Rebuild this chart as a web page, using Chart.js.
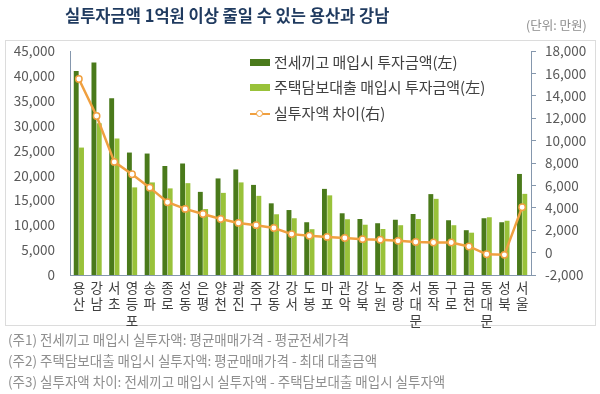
<!DOCTYPE html>
<html>
<head>
<meta charset="utf-8">
<script src="https://cdn.jsdelivr.net/npm/chart.js@4"></script>
<style>
  html, body { margin: 0; padding: 0; background: #fff; }
  body { width: 600px; height: 394px; position: relative; overflow: hidden;
         font-family: "Noto Sans CJK KR", "Noto Sans", sans-serif; }
  #frame { position: absolute; left: 5px; top: 40px; width: 591px; height: 286px;
           border: 1px solid #dcdcdc; box-sizing: border-box; }
  #chartBox { position: absolute; left: 0; top: 0; width: 600px; height: 394px; }
  .title { position: absolute; left: 65px; top: 3px; font-size: 16.5px; font-weight: bold;
           color: #1f3a5f; white-space: nowrap; }
  .unit { position: absolute; left: 526px; top: 15px; font-size: 12.5px; color: #8c8c8c; white-space: nowrap; }
  .note { position: absolute; left: 8px; font-size: 13.5px; color: #8f8f8f; white-space: nowrap; }
  .lg { position: absolute; left: 250px; font-size: 15px; color: #404040; white-space: nowrap; }
  .lg .sw { display: inline-block; width: 20px; height: 7px; vertical-align: middle; margin-right: 4px; position: relative; top: -1px; }
  .lg .ln { display: inline-block; width: 20px; height: 10px; vertical-align: middle; margin-right: 4px; position: relative; top: -1px; }
  .lg .ln::before { content: ""; position: absolute; left: 0; right: 0; top: 4px; height: 2px; background: #f0a040; }
  .lg .ln::after { content: ""; position: absolute; left: 6px; top: 1px; width: 5px; height: 5px; border: 1.5px solid #f0a040; border-radius: 50%; background: #fff; }
</style>
</head>
<body>
<div id="frame"></div>
<div id="chartBox"><canvas id="myChart" width="600" height="394"></canvas></div>
<div class="title">실투자금액 1억원 이상 줄일 수 있는 용산과 강남</div>
<div class="unit">(단위: 만원)</div>
<div class="lg" style="top:51px"><span class="sw" style="background:#4a7a1b"></span>전세끼고 매입시 투자금액(左)</div>
<div class="lg" style="top:76px"><span class="sw" style="background:#99c23a"></span>주택담보대출 매입시 투자금액(左)</div>
<div class="lg" style="top:102px"><span class="ln"></span>실투자액 차이(右)</div>
<div class="note" style="top:329px">(주1) 전세끼고 매입시 실투자액: 평균매매가격 - 평균전세가격</div>
<div class="note" style="top:350px">(주2) 주택담보대출 매입시 실투자액: 평균매매가격 - 최대 대출금액</div>
<div class="note" style="top:371px">(주3) 실투자액 차이: 전세끼고 매입시 실투자액 - 주택담보대출 매입시 실투자액</div>

<script>
// 구별 이름 (세로로 한 글자씩 표시)
const districts = ['용산', '강남', '서초', '영등포', '송파', '종로', '성동', '은평', '양천', '광진', '중구', '강동', '강서',
                   '도봉', '마포', '관악', '강북', '노원', '중랑', '서대문', '동작', '구로', '금천', '동대문', '성북', '서울'];

// 전세끼고 매입시 투자금액 (만원)
const jeonseInvest = [41000, 42700, 35500, 24600, 24400, 21900, 22400, 16700, 19400, 21200, 18100, 14400, 13050,
                      10600, 17300, 12400, 11250, 10400, 11100, 12250, 16250, 11000, 9000, 11400, 10600, 20300];

// 주택담보대출 매입시 투자금액 (만원)
const loanInvest = [25600, 30500, 27400, 17600, 18600, 17400, 18450, 13250, 16500, 18600, 15900, 12200, 11400,
                    9200, 16000, 11200, 10100, 9240, 10000, 11250, 15300, 10000, 8500, 11600, 10900, 16300];

// 실투자액 차이 (만원, 오른쪽 축)
const investGap = [15500, 12200, 8100, 7000, 5800, 4500, 3900, 3450, 3000, 2650, 2450, 2200, 1650,
                   1500, 1400, 1300, 1200, 1150, 1050, 950, 900, 900, 550, -150, -200, 4050];

const axisColor = '#8597ad';
const tickFont = { family: '"Noto Sans CJK KR", sans-serif', size: 13.5 };
const fmt = v => v.toLocaleString('en-US');

const ctx = document.getElementById('myChart').getContext('2d');
const chart = new Chart(ctx, {
    type: 'bar',
    data: {
        labels: districts.map(d => d.split('')),
        datasets: [{
            type: 'line',
            label: '실투자액 차이(右)',
            data: investGap,
            yAxisID: 'y1',
            borderColor: '#f0a040',
            borderWidth: 2.5,
            pointRadius: 3.2,
            pointBackgroundColor: '#ffffff',
            pointBorderColor: '#f0a040',
            pointBorderWidth: 1.5,
            tension: 0
        }, {
            label: '전세끼고 매입시 투자금액(左)',
            data: jeonseInvest,
            yAxisID: 'y',
            backgroundColor: '#4a7a1b',
            categoryPercentage: 0.6,
            barPercentage: 0.92
        }, {
            label: '주택담보대출 매입시 투자금액(左)',
            data: loanInvest,
            yAxisID: 'y',
            backgroundColor: '#99c23a',
            categoryPercentage: 0.6,
            barPercentage: 0.92
        }]
    },
    options: {
        responsive: false,
        animation: false,
        layout: { padding: { top: 51, left: 0, right: 0, bottom: 0 } },
        plugins: { legend: { display: false }, tooltip: { enabled: false } },
        scales: {
            x: {
                grid: { display: false, drawTicks: false },
                border: { display: true, color: axisColor, width: 1 },
                ticks: { color: '#404040', font: tickFont, padding: 5, maxRotation: 0, autoSkip: false },
                afterFit: s => { s.height = 119; }
            },
            y: {
                position: 'left',
                min: 0, max: 45000,
                grid: { display: false, drawTicks: false },
                border: { display: true, color: axisColor, width: 1 },
                ticks: { stepSize: 5000, color: '#595959', font: tickFont, padding: 15, callback: fmt },
                afterFit: s => { s.width = 70; }
            },
            y1: {
                position: 'right',
                min: -2000, max: 18000,
                grid: { display: true, drawOnChartArea: false, drawTicks: true, tickLength: 5, tickColor: axisColor },
                border: { display: true, color: axisColor, width: 1 },
                ticks: { stepSize: 2000, color: '#595959', font: tickFont, padding: 9, callback: fmt },
                afterFit: s => { s.width = 69; }
            }
        }
    }
});
</script>
</body>
</html>
